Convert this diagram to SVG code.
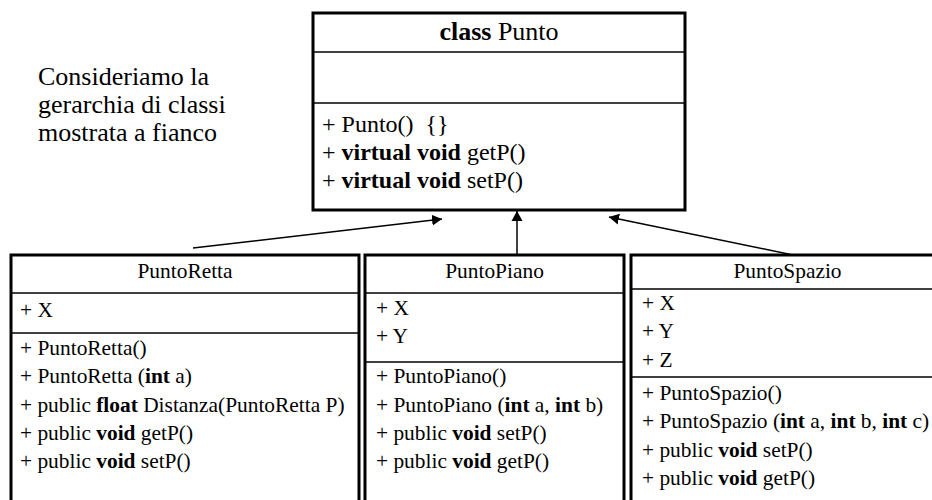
<svg xmlns="http://www.w3.org/2000/svg" width="932" height="500" viewBox="0 0 932 500">
<style>
text{font-family:"Liberation Serif","DejaVu Serif",Tinos,serif;fill:#000}
.box{fill:#fff;stroke:#000;stroke-width:3}
.div{stroke:#000;stroke-width:1.5}
.t{font-size:24px}
.h{font-size:26px}
.m{font-size:21.4px}
.c{text-anchor:middle}
.note{font-size:26px}
.b{font-weight:bold}
.conn{stroke:#000;stroke-width:1.5;fill:none}
</style>
<defs>
<marker id="ah" markerUnits="userSpaceOnUse" markerWidth="12" markerHeight="12" refX="10" refY="6" orient="auto">
<path d="M0,0.5 L10,6 L0,11.5 Z" fill="#000"/>
</marker>
</defs>
<g id="note">
<text class="note" x="38" y="85">Consideriamo la</text>
<text class="note" x="38" y="113">gerarchia di classi</text>
<text class="note" x="38" y="141">mostrata a fianco</text>
</g>
<g id="Punto">
<rect class="box" x="313" y="13" width="372" height="197"/>
<line class="div" x1="313" y1="52" x2="685" y2="52"/>
<line class="div" x1="313" y1="103" x2="685" y2="103"/>
<text class="h c" x="499" y="40"><tspan class="b">class</tspan> Punto</text>
<text class="t" x="322" y="132" xml:space="preserve">+ Punto()  {}</text>
<text class="t" x="322" y="160">+ <tspan class="b">virtual void</tspan> getP()</text>
<text class="t" x="322" y="188">+ <tspan class="b">virtual void</tspan> setP()</text>
</g>
<g id="PuntoRetta">
<rect class="box" x="11" y="255" width="348" height="260"/>
<line class="div" x1="11" y1="293" x2="359" y2="293"/>
<line class="div" x1="11" y1="333" x2="359" y2="333"/>
<text class="m c" x="185" y="278">PuntoRetta</text>
<text class="m" x="20" y="317">+ X</text>
<text class="m" x="20" y="355">+ PuntoRetta()</text>
<text class="m" x="20" y="383">+ PuntoRetta (<tspan class="b">int</tspan> a)</text>
<text class="m" x="20" y="412">+ public <tspan class="b">float</tspan> Distanza(PuntoRetta P)</text>
<text class="m" x="20" y="440">+ public <tspan class="b">void</tspan> getP()</text>
<text class="m" x="20" y="468">+ public <tspan class="b">void</tspan> setP()</text>
</g>
<g id="PuntoPiano">
<rect class="box" x="365" y="255" width="259" height="260"/>
<line class="div" x1="365" y1="293" x2="624" y2="293"/>
<line class="div" x1="365" y1="362" x2="624" y2="362"/>
<text class="m c" x="494.5" y="278">PuntoPiano</text>
<text class="m" x="376" y="315">+ X</text>
<text class="m" x="376" y="343">+ Y</text>
<text class="m" x="376" y="383">+ PuntoPiano()</text>
<text class="m" x="376" y="412">+ PuntoPiano (<tspan class="b">int</tspan> a, <tspan class="b">int</tspan> b)</text>
<text class="m" x="376" y="440">+ public <tspan class="b">void</tspan> setP()</text>
<text class="m" x="376" y="468">+ public <tspan class="b">void</tspan> getP()</text>
</g>
<g id="PuntoSpazio">
<rect class="box" x="631" y="255" width="313" height="260"/>
<line class="div" x1="631" y1="289" x2="944" y2="289"/>
<line class="div" x1="631" y1="377" x2="944" y2="377"/>
<text class="m c" x="787.5" y="278">PuntoSpazio</text>
<text class="m" x="642" y="310">+ X</text>
<text class="m" x="642" y="338">+ Y</text>
<text class="m" x="642" y="367">+ Z</text>
<text class="m" x="642" y="400">+ PuntoSpazio()</text>
<text class="m" x="642" y="428">+ PuntoSpazio (<tspan class="b">int</tspan> a, <tspan class="b">int</tspan> b, <tspan class="b">int</tspan> c)</text>
<text class="m" x="642" y="457">+ public <tspan class="b">void</tspan> setP()</text>
<text class="m" x="642" y="485">+ public <tspan class="b">void</tspan> getP()</text>
</g>
<g id="connectors">
<line class="conn" x1="193" y1="248" x2="442" y2="219" marker-end="url(#ah)"/>
<line class="conn" x1="517" y1="255" x2="517" y2="211" marker-end="url(#ah)"/>
<line class="conn" x1="793" y1="255" x2="609" y2="217" marker-end="url(#ah)"/>
</g>
</svg>
